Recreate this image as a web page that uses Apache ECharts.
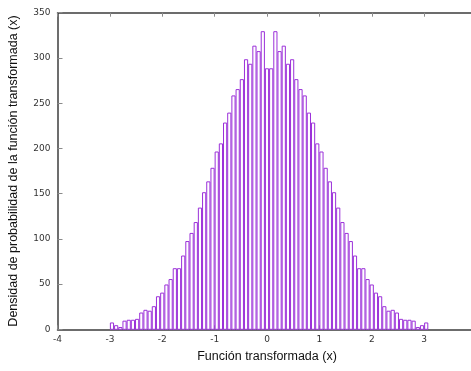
<!DOCTYPE html>
<html>
<head>
<meta charset="utf-8">
<script src="https://cdn.jsdelivr.net/npm/echarts@6/dist/echarts.min.js"></script>
<style>
  html, body { margin: 0; padding: 0; background: #fff; }
  #chart { width: 471px; height: 371px; }
</style>
</head>
<body>
<div id="chart"></div>
<script>
// Histogram bins: first left edge and common width
const binStart = -3.0;
const binWidth = 0.08;
// Counts per bin, left to right
const counts = [
  7, 4, 2, 9, 10, 10, 11, 18, 21, 20,
  25, 36, 40, 49, 55, 67, 67, 81, 97, 106,
  118, 134, 151, 163, 178, 196, 205, 228, 239, 258,
  265, 276, 298, 293, 313, 307, 329, 288,
  288, 329, 307, 313, 293, 298, 276, 265, 258, 239,
  228, 205, 196, 178, 163, 151, 134, 118, 106, 97,
  81, 67, 67, 55, 49, 40, 36, 25, 20, 21,
  18, 11, 10, 10, 9, 2, 4, 7
];
// Axis tick values
const xTicks = [-4, -3, -2, -1, 0, 1, 2, 3, 4];
const yTicks = [0, 50, 100, 150, 200, 250, 300, 350];

const xTitle = 'Función transformada (x)';
const yTitle = 'Densidad de probabilidad de la función transformada (x)';

const bins = counts.map((c, i) => [binStart + i * binWidth, binStart + (i + 1) * binWidth, c]);

const frameColor = '#3c3c3c';
const tickColor = '#8a8a8a';
const labelFont = { fontFamily: 'DejaVu Sans', fontSize: 9, color: '#333' };

const chart = echarts.init(document.getElementById('chart'), null, { renderer: 'canvas' });

const baseX = {
  type: 'value',
  min: xTicks[0],
  max: xTicks[xTicks.length - 1],
  interval: 1,
  splitLine: { show: false },
  axisLine: { show: true, onZero: false, lineStyle: { color: frameColor, width: 1.5 } },
  axisTick: { show: true, inside: true, length: 4, lineStyle: { color: tickColor, width: 1 } }
};
const baseY = {
  type: 'value',
  min: yTicks[0],
  max: yTicks[yTicks.length - 1],
  interval: 50,
  splitLine: { show: false },
  axisLine: { show: true, onZero: false, lineStyle: { color: frameColor, width: 1.5 } },
  axisTick: { show: true, inside: true, length: 5, lineStyle: { color: tickColor, width: 1 } }
};

chart.setOption({
  animation: false,
  backgroundColor: '#fff',
  grid: {
    left: 57.5, top: 12.7, width: 419, height: 316.6,
    containLabel: false,
    outerBoundsMode: 'none'
  },
  xAxis: [
    Object.assign({}, baseX, {
      position: 'bottom',
      name: xTitle,
      nameLocation: 'middle',
      nameGap: 21,
      nameTextStyle: { fontFamily: 'Liberation Sans', fontSize: 12.5, color: '#111' },
      axisLabel: Object.assign({ margin: 6 }, labelFont)
    }),
    Object.assign({}, baseX, {
      position: 'top',
      axisLabel: { show: false }
    })
  ],
  yAxis: [
    Object.assign({}, baseY, {
      position: 'left',
      name: yTitle,
      nameLocation: 'middle',
      nameGap: 37,
      nameRotate: 90,
      nameTextStyle: { fontFamily: 'Liberation Sans', fontSize: 12.5, color: '#111' },
      axisLabel: Object.assign({ margin: 7 }, labelFont)
    }),
    Object.assign({}, baseY, {
      position: 'right',
      axisLabel: { show: false }
    })
  ],
  series: [{
    type: 'custom',
    xAxisIndex: 0,
    yAxisIndex: 0,
    data: bins,
    renderItem: function (params, api) {
      const x0 = api.value(0), x1 = api.value(1), y = api.value(2);
      const pBase = api.coord([x0, 0]);
      const pTop = api.coord([x1, y]);
      const w = pTop[0] - pBase[0];
      const inset = w * 0.12;
      return {
        type: 'rect',
        shape: { x: pBase[0] + inset, y: pTop[1], width: w - 2 * inset, height: pBase[1] - pTop[1] },
        style: { fill: '#fff', stroke: '#9b30d9', lineWidth: 1 }
      };
    }
  }]
});
</script>
</body>
</html>
